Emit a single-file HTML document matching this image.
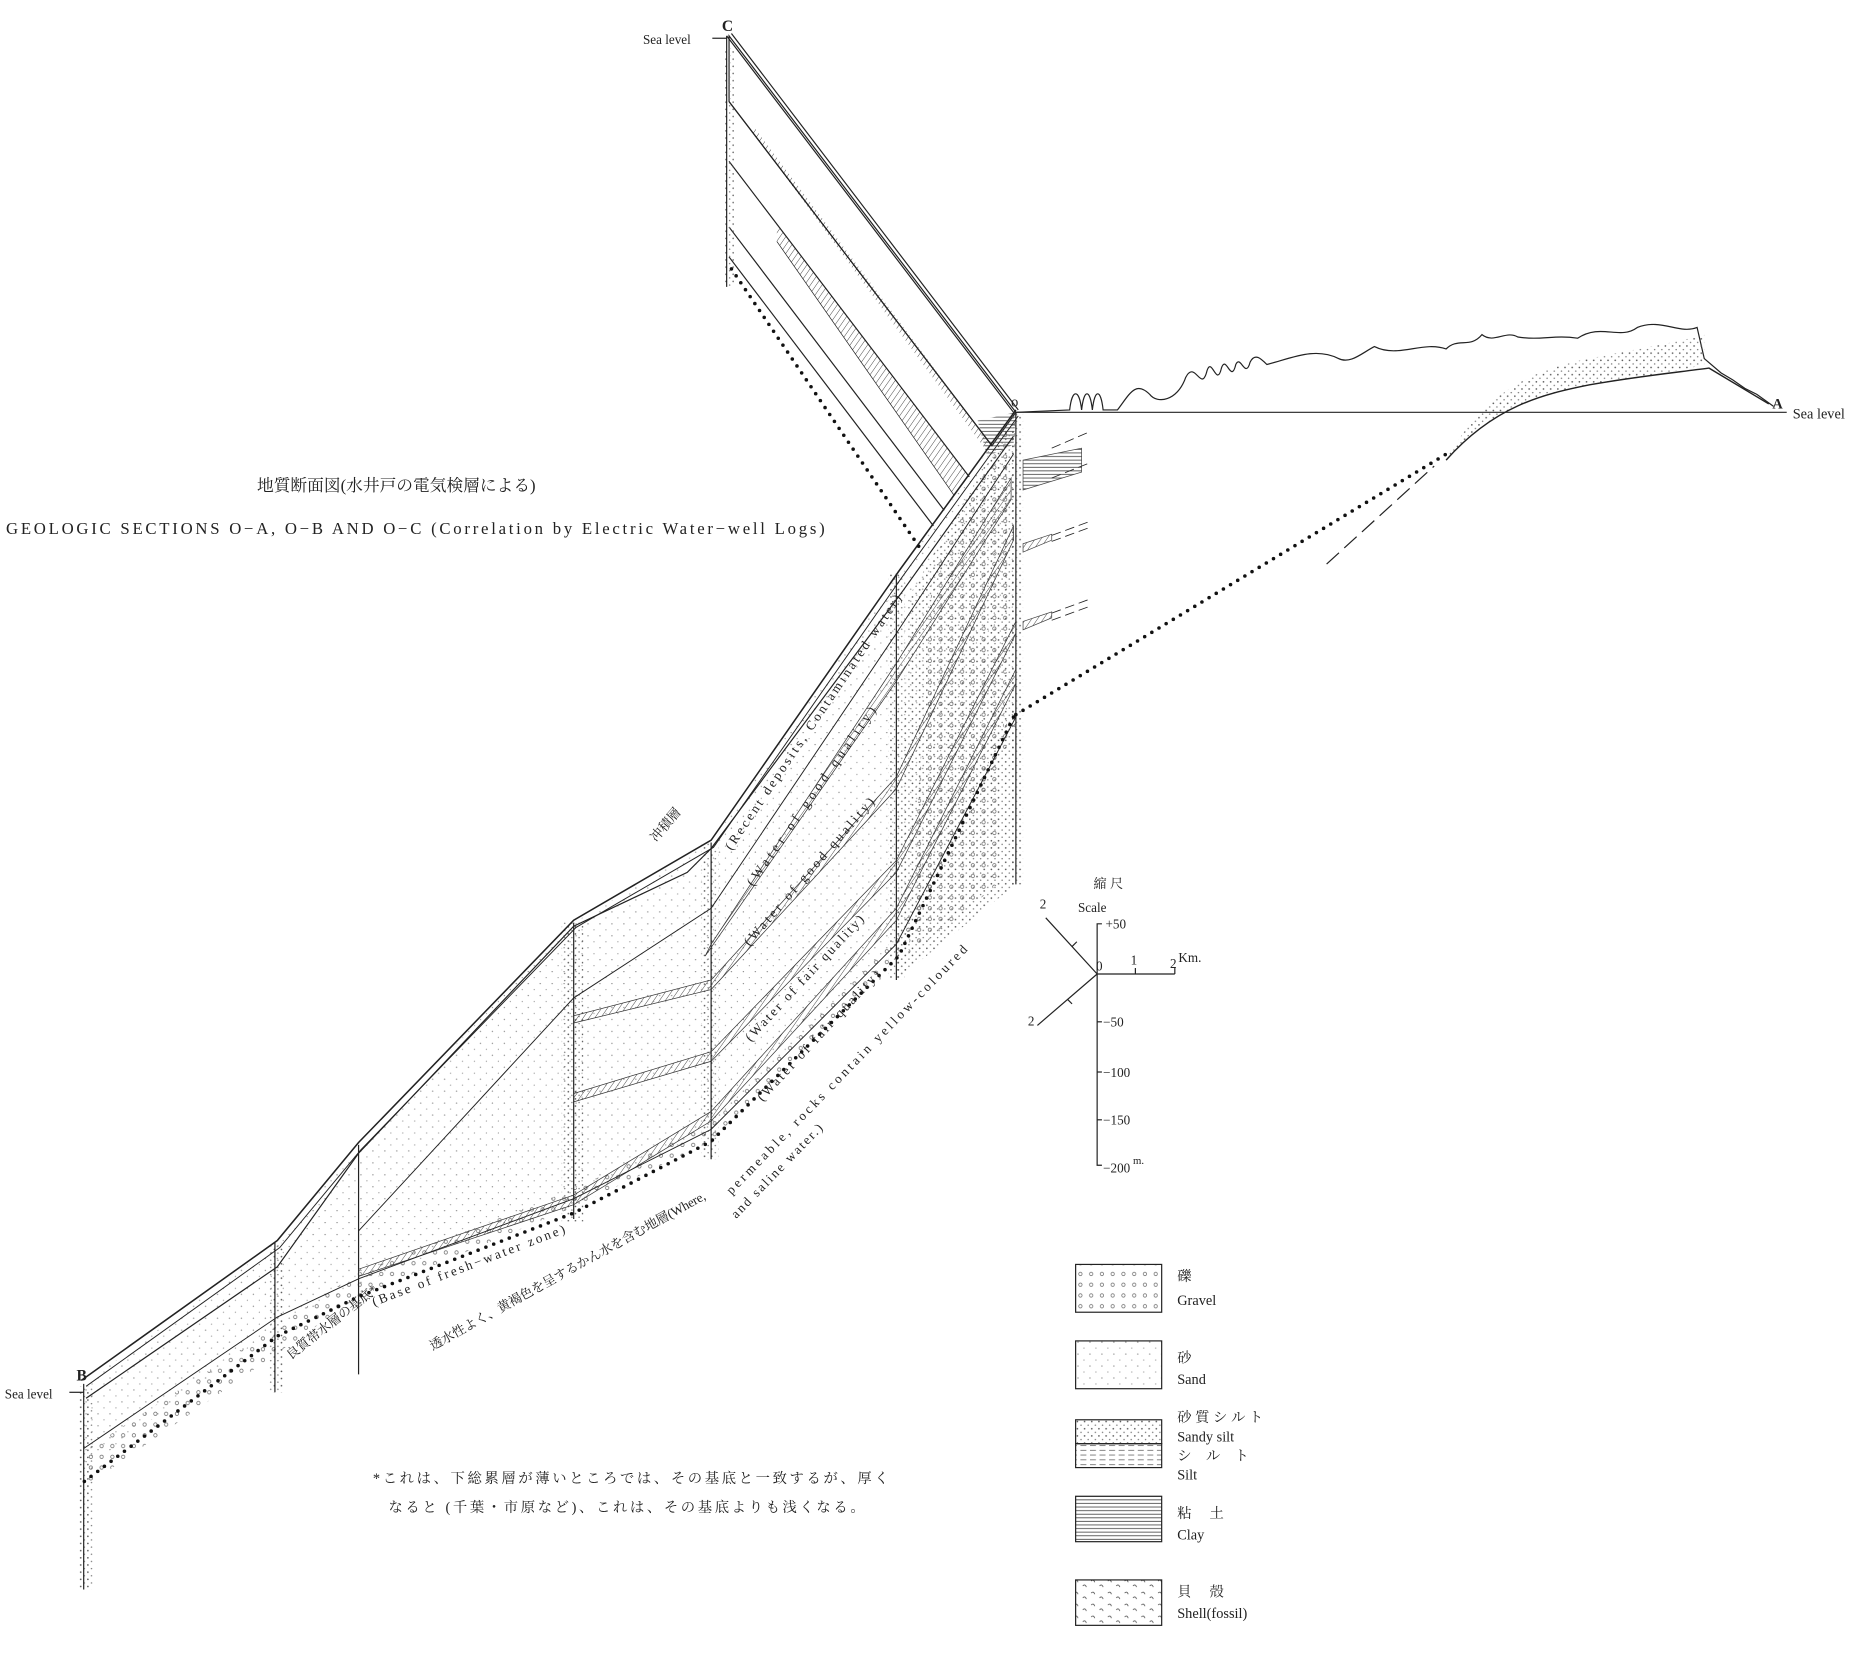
<!DOCTYPE html>
<html><head><meta charset="utf-8"><style>
html,body{margin:0;padding:0;background:#fff;}
svg{display:block}
text{font-family:"Liberation Serif","Noto Serif CJK SC","Noto Sans CJK JP",serif;fill:#222}
</style></head><body>
<svg width="1874" height="1660" viewBox="0 0 1568 1389" xmlns="http://www.w3.org/2000/svg">
<defs>
<pattern id="dots" width="6" height="6" patternUnits="userSpaceOnUse"><circle cx="1.5" cy="1.5" r="0.7" fill="#555"/><circle cx="4.5" cy="4.5" r="0.6" fill="#777"/></pattern>
<pattern id="sdots" width="10" height="10" patternUnits="userSpaceOnUse"><circle cx="2" cy="3" r="0.55" fill="#888"/><circle cx="7" cy="8" r="0.5" fill="#999"/></pattern>
<pattern id="grav" width="9" height="9" patternUnits="userSpaceOnUse"><circle cx="4" cy="4" r="1.4" fill="none" stroke="#666" stroke-width="0.6"/></pattern>
<pattern id="hatch" width="4" height="4" patternUnits="userSpaceOnUse" patternTransform="rotate(35)"><line x1="0" y1="0" x2="0" y2="4" stroke="#444" stroke-width="0.8"/></pattern>
<pattern id="hor" width="4" height="3" patternUnits="userSpaceOnUse"><line x1="0" y1="1" x2="4" y2="1" stroke="#444" stroke-width="0.7"/></pattern>
<pattern id="dash" width="8" height="4" patternUnits="userSpaceOnUse"><line x1="0" y1="1.5" x2="5" y2="1.5" stroke="#555" stroke-width="0.6"/></pattern>
<pattern id="shell" width="14" height="10" patternUnits="userSpaceOnUse"><path d="M3 3 q2 -2 3 1 M10 7 q2 -2 3 1" fill="none" stroke="#555" stroke-width="0.7"/></pattern>
</defs>
<g stroke="#222" fill="none" stroke-width="1">
<!-- C-O section -->
<polygon points="610,30 850,345 830,373 610,85" fill="#fff"/>
<polygon points="650,188 811,399 798,414 650,202" fill="url(#hatch)" stroke="none"/>
<polygon points="630,105 830,373 826,378 630,111" fill="url(#hatch)" stroke="none"/>
<polygon points="818,352 850,345 848,372 826,382" fill="url(#hor)" stroke="none"/>
<polyline points="608,30 848,345"/>
<polyline points="612,28 852,343"/>
<line x1="610" y1="85" x2="830" y2="373"/>
<line x1="610" y1="135" x2="811" y2="399"/>
<line x1="650" y1="202" x2="798" y2="414" stroke-width="0.6"/>
<line x1="610" y1="190" x2="790" y2="427"/>
<line x1="610" y1="215" x2="781" y2="440"/>
<rect x="606" y="40" width="8" height="200" fill="url(#dots)" stroke="none"/>
<line x1="608" y1="30" x2="608" y2="240"/>
<line x1="596" y1="32" x2="608" y2="32"/>
<!-- O-B section fill -->
<polygon points="850,345 752,480 595,705 480,772 300,958 232,1040 70,1158 70,1230 232,1110 300,1075 480,1000 595,945 750,790 850,600" fill="url(#sdots)" stroke="none"/>
<polygon points="850,345 760,500 750,820 850,740" fill="url(#dots)" stroke="none"/>
<polygon points="850,345 780,480 760,800 835,740" fill="url(#grav)" stroke="none"/>
<polygon points="70,1215 300,1065 480,995 595,940 750,785 850,590 850,610 750,800 595,955 480,1010 300,1085 70,1245" fill="url(#grav)" stroke="none"/>
<!-- wells -->
<rect x="66" y="1160" width="12" height="170" fill="url(#dots)" stroke="none"/>
<rect x="225" y="1040" width="12" height="125" fill="url(#dots)" stroke="none"/>
<rect x="470" y="772" width="18" height="250" fill="url(#dots)" stroke="none"/>
<rect x="587" y="705" width="14" height="265" fill="url(#dots)" stroke="none"/>
<rect x="743" y="480" width="14" height="340" fill="url(#dots)" stroke="none"/>
<rect x="846" y="345" width="10" height="395" fill="url(#dots)" stroke="none"/>
<line x1="70" y1="1158" x2="70" y2="1330"/>
<line x1="230" y1="1040" x2="230" y2="1165"/>
<line x1="300" y1="958" x2="300" y2="1150"/>
<line x1="480" y1="772" x2="480" y2="1020"/>
<line x1="595" y1="705" x2="595" y2="970"/>
<line x1="750" y1="480" x2="750" y2="820"/>
<line x1="850" y1="345" x2="850" y2="740"/>
<!-- surface lines -->
<polyline points="850,343 752,478 595,703 480,770 300,956 232,1038 68,1155" stroke-width="1.3"/>
<polyline points="852,348 754,484 597,709 482,776 302,962 234,1044 72,1160" stroke-width="0.8"/>
<polyline points="848,365 755,495 595,710 575,730 480,775 300,965 232,1060 72,1170"/>
<!-- internal layers -->
<polyline points="848,380 750,530 595,760 480,835 300,1030" stroke-width="0.8"/>
<polygon points="846,400 750,555 595,790 590,800 750,570 846,418" fill="url(#hatch)" stroke="#333" stroke-width="0.6"/>
<polygon points="848,440 750,650 595,820 480,850 480,856 595,828 750,660 848,452" fill="url(#hatch)" stroke="#333" stroke-width="0.6"/>
<polygon points="850,520 750,720 595,880 480,915 480,922 595,888 750,730 850,530" fill="url(#hatch)" stroke="#333" stroke-width="0.6"/>
<polygon points="850,560 750,760 595,930 480,1000 300,1062 300,1068 480,1008 595,938 750,770 850,572" fill="url(#hatch)" stroke="#333" stroke-width="0.6"/>
<polyline points="850,600 750,790 595,945 480,1003 300,1070 232,1102 70,1212" stroke-width="0.8"/>
<!-- clay blocks right of O -->
<polygon points="856,385 905,375 905,395 856,410" fill="url(#hor)" stroke="#444" stroke-width="0.6"/>
<polygon points="856,455 880,447 880,452 856,462" fill="url(#hatch)" stroke="#444" stroke-width="0.6"/>
<polygon points="856,520 880,512 880,517 856,527" fill="url(#hatch)" stroke="#444" stroke-width="0.6"/>
<g stroke-dasharray="8,4" stroke-width="0.7">
<line x1="880" y1="375" x2="910" y2="362"/><line x1="880" y1="400" x2="910" y2="388"/>
<line x1="880" y1="448" x2="910" y2="437"/><line x1="880" y1="453" x2="910" y2="442"/>
<line x1="880" y1="513" x2="910" y2="502"/><line x1="880" y1="519" x2="910" y2="508"/>
</g>
<!-- O-A -->
<line x1="850" y1="345" x2="1495" y2="345"/>
<path d="M850,345 L895,343 C897,325 903,325 905,343 C907,325 912,325 914,343 C916,325 921,325 923,343 L935,343 C945,330 950,318 962,330 C968,338 985,336 992,316 C1000,300 1005,330 1010,310 C1014,298 1018,325 1022,308 C1026,296 1030,322 1034,305 C1038,296 1042,318 1046,303 C1050,295 1055,300 1060,305 C1080,300 1100,290 1120,300 C1130,305 1140,295 1150,290 C1170,300 1190,285 1210,292 C1220,282 1230,292 1240,280 C1250,288 1260,276 1270,282 C1290,285 1300,280 1320,283 C1340,270 1355,285 1370,274 C1390,266 1405,280 1420,274 L1426,300 L1440,312 L1450,318 L1460,325 L1470,330 L1484,340"/>
<path d="M1210,385 C1250,340 1290,330 1330,322 C1370,315 1400,312 1426,305 L1426,280 C1410,285 1380,290 1330,300 C1280,310 1240,330 1210,385 Z" fill="url(#dots)" stroke="none"/>
<path d="M1210,385 C1250,340 1290,330 1330,322 C1370,315 1400,312 1430,308 L1480,338" stroke-width="1.2"/>
<line x1="1110" y1="472" x2="1200" y2="390" stroke-dasharray="14,6"/>
</g>
<!-- dotted lines -->
<g stroke="#111" stroke-width="3" stroke-linecap="round" stroke-dasharray="0,7" fill="none">
<line x1="612" y1="225" x2="772" y2="462"/>
<line x1="850" y1="598" x2="1210" y2="380"/>
<polyline points="848,600 752,800 595,955 480,1015 300,1085 232,1118 70,1240"/>
</g>
<!-- labels -->
<text x="604" y="26" font-size="13" font-weight="bold">C</text>
<text x="538" y="37" font-size="11" font-family="Liberation Sans">Sea level</text>
<text x="846" y="340" font-size="12">o</text>
<text x="1483" y="342" font-size="12" font-weight="bold">A</text>
<text x="1500" y="350" font-size="12">Sea  level</text>
<text x="64" y="1155" font-size="13" font-weight="bold">B</text>
<text x="4" y="1170" font-size="11" font-family="Liberation Sans">Sea  level</text>
<line x1="58" y1="1165" x2="70" y2="1165" stroke="#222"/>
<text x="215" y="411" font-size="14">地質断面図(水井戸の電気検層による)</text>
<text x="5" y="447" font-size="14" textLength="685" lengthAdjust="spacing">GEOLOGIC SECTIONS O−A, O−B AND O−C (Correlation by Electric Water−well Logs)</text>
<g font-size="11">
<text transform="translate(612,712) rotate(-56)" textLength="255">(Recent deposits, Contaminated water)</text>
<text transform="translate(630,742) rotate(-55)" textLength="180">(Water of good quality)</text>
<text transform="translate(627,792) rotate(-49)" textLength="160">(Water of good quality)</text>
<text transform="translate(628,872) rotate(-47)" textLength="140">(Water of fair quality)</text>
<text transform="translate(638,922) rotate(-47)" textLength="145">(Water of fair quality)</text>
<text transform="translate(549,705) rotate(-50)">冲積層</text>
<text transform="translate(313,1093) rotate(-21)" textLength="172">(Base of fresh−water zone)</text>
<text transform="translate(243,1138) rotate(-38)">良質帯水層の基底*</text>
<text transform="translate(362,1130) rotate(-29)" textLength="262">透水性よく、黄褐色を呈するかん水を含む地層(Where,</text>
<text transform="translate(612,1000) rotate(-46)" textLength="285">permeable, rocks contain yellow-coloured</text>
<text transform="translate(616,1020) rotate(-46)" textLength="105">and saline water.)</text>
</g>
<text x="312" y="1241" font-size="12" letter-spacing="2.2">*これは、下総累層が薄いところでは、その基底と一致するが、厚く</text>
<text x="325" y="1265" font-size="12" letter-spacing="2.2">なると (千葉・市原など)、これは、その基底よりも浅くなる。</text>
<!-- scale -->
<g stroke="#222" fill="none" stroke-width="1">
<polyline points="922,773 918,773 918,975 922,975"/>
<line x1="918" y1="815" x2="983" y2="815"/><line x1="983" y1="815" x2="983" y2="810"/><line x1="950" y1="815" x2="950" y2="810"/>
<line x1="918" y1="855" x2="922" y2="855"/><line x1="918" y1="897" x2="922" y2="897"/><line x1="918" y1="937" x2="922" y2="937"/>
<line x1="918" y1="815" x2="875" y2="768"/><line x1="918" y1="815" x2="868" y2="858"/>
<line x1="897" y1="792" x2="901" y2="788"/><line x1="893" y1="836" x2="897" y2="840"/>
</g>
<g font-size="11">
<text x="915" y="743">縮 尺</text><text x="902" y="763">Scale</text>
<text x="925" y="777">+50</text><text x="917" y="812">0</text><text x="946" y="807">1</text><text x="979" y="810">2</text><text x="986" y="805">Km.</text>
<text x="923" y="859">−50</text><text x="923" y="901">−100</text><text x="923" y="941">−150</text><text x="923" y="981">−200</text><text x="948" y="974" font-size="9">m.</text>
<text x="870" y="760">2</text><text x="860" y="858">2</text>
</g>
<!-- legend -->
<g stroke="#222" stroke-width="1">
<rect x="900" y="1058" width="72" height="40" fill="url(#grav)"/>
<rect x="900" y="1122" width="72" height="40" fill="url(#sdots)"/>
<rect x="900" y="1188" width="72" height="20" fill="url(#dots)"/>
<rect x="900" y="1208" width="72" height="20" fill="url(#dash)"/>
<rect x="900" y="1252" width="72" height="38" fill="url(#hor)"/>
<rect x="900" y="1322" width="72" height="38" fill="url(#shell)"/>
</g>
<g font-size="12">
<text x="985" y="1072">礫</text><text x="985" y="1092">Gravel</text>
<text x="985" y="1140">砂</text><text x="985" y="1158">Sand</text>
<text x="985" y="1190">砂 質 シ ル ト</text><text x="985" y="1206">Sandy silt</text>
<text x="985" y="1222">シ　ル　ト</text><text x="985" y="1238">Silt</text>
<text x="985" y="1270">粘　 土</text><text x="985" y="1288">Clay</text>
<text x="985" y="1336">貝　 殻</text><text x="985" y="1354">Shell(fossil)</text>
</g>
</svg>
</body></html>
